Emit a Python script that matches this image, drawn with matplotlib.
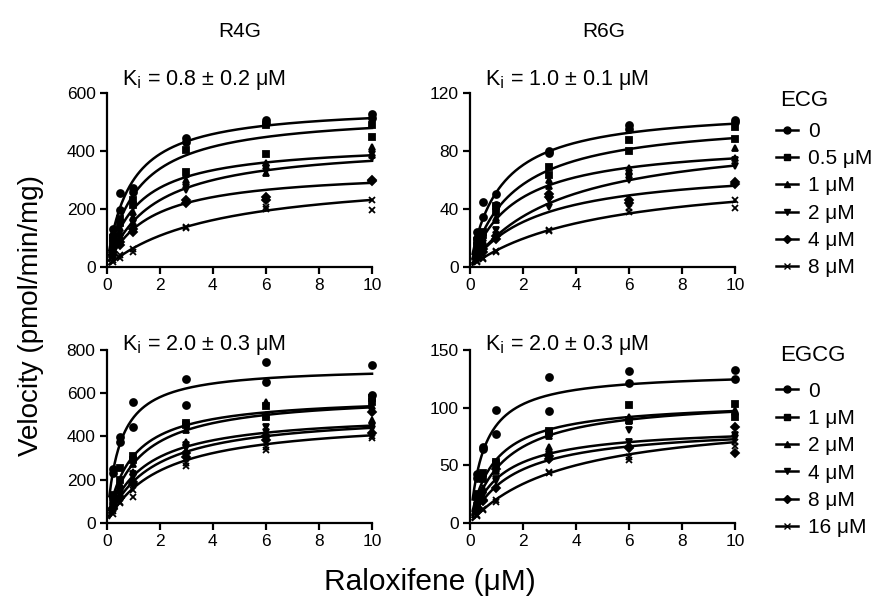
import matplotlib.pyplot as plt
import numpy as np
from matplotlib.lines import Line2D

plt.rcParams['font.family'] = ['Liberation Sans', 'DejaVu Sans']

# 底物浓度
conc = [0.25, 0.5, 1, 3, 6, 10]

# 抑制剂浓度标签
ecg_labels = ['0', '0.5 μM', '1 μM', '2 μM', '4 μM', '8 μM']
egcg_labels = ['0', '1 μM', '2 μM', '4 μM', '8 μM', '16 μM']
markers = ['o', 's', '^', 'v', 'D', 'x']

# R4G + ECG  每个浓度两次重复
r4g_ecg = [
    [[110, 196, 271, 444, 508, 527], [130, 254, 259, 433, 496, 514]],
    [[90, 150, 213, 404, 490, 490], [100, 165, 230, 329, 389, 450]],
    [[70, 120, 173, 300, 323, 415], [80, 135, 190, 320, 360, 385]],
    [[50, 90, 138, 265, 340, 390], [60, 100, 150, 277, 330, 375]],
    [[40, 75, 120, 220, 242, 300], [50, 85, 130, 230, 231, 295]],
    [[15, 30, 52, 138, 208, 231], [22, 40, 60, 135, 200, 196]],
]
r4g_ecg_vmax = [559, 536, 430, 430, 336, 325]
r4g_ecg_km = [0.871, 1.165, 1.152, 1.739, 1.58, 4.06]

# R6G + ECG
r6g_ecg = [
    [[20, 44.9, 50.6, 78.7, 97.8, 101.7], [24, 34.5, 43, 80, 95.5, 100]],
    [[14, 24, 42, 69, 87.9, 97], [18, 22, 38, 63.3, 80, 88.6]],
    [[11, 20, 32, 56, 68.6, 82.4], [13, 18, 34, 60, 66, 75]],
    [[6, 11, 25.3, 41.4, 62, 74], [7, 13, 22, 46, 60, 70]],
    [[6, 12, 19, 50, 46, 58.7], [8, 10, 21, 48, 44, 57]],
    [[3, 6, 10.4, 25.4, 40.3, 46], [4, 5, 11, 25, 38, 40.3]],
]
r6g_ecg_vmax = [110.2, 103.6, 87.2, 93.7, 70.3, 67.2]
r6g_ecg_km = [1.133, 1.637, 1.63, 3.39, 2.545, 4.94]

# R4G + EGCG
r4g_egcg = [
    [[229, 398, 560, 664, 746, 730], [250, 375, 445, 545, 653, 590]],
    [[130, 252, 290, 452, 540, 576], [120, 200, 310, 460, 491, 560]],
    [[100, 170, 236, 375, 560, 476], [110, 180, 270, 430, 500, 540]],
    [[80, 140, 210, 345, 445, 434], [75, 130, 225, 360, 420, 450]],
    [[65, 115, 190, 325, 383, 513], [70, 120, 180, 305, 400, 414]],
    [[40, 90, 120, 275, 337, 391], [55, 95, 150, 265, 350, 400]],
]
r4g_egcg_vmax = [724, 589, 598, 511, 514, 488]
r4g_egcg_km = [0.49, 0.91, 1.184, 1.354, 1.69, 2.05]

# R6G + EGCG
r6g_egcg = [
    [[38.5, 66, 97.9, 126.8, 132, 132.6], [42, 64, 77, 97.3, 121.6, 125]],
    [[22, 42.9, 51, 77.6, 102.2, 103], [25, 38, 53, 80, 89.2, 92]],
    [[17, 30, 45, 66, 92, 96], [19, 28, 47, 75, 88, 98]],
    [[14, 24, 38, 60, 80.5, 76.2], [15, 26, 36, 58, 70, 74]],
    [[11, 20, 47, 55, 64.6, 83.4], [12, 19, 30, 58, 66, 60.3]],
    [[6, 11, 18, 42.9, 54.5, 66.6], [7, 12, 20, 44, 57, 70]],
]
r6g_egcg_vmax = [131.3, 106, 109.1, 84, 84.5, 95.8]
r6g_egcg_km = [0.55, 0.925, 1.31, 1.2, 1.648, 3.68]

fig = plt.figure(figsize=(8.76, 6), dpi=100)

panels = [
    ([0.1218, 0.5555, 0.3029, 0.289], r4g_ecg, r4g_ecg_vmax, r4g_ecg_km, 600, [0, 200, 400, 600], 'K$_\\mathrm{i}$ = 0.8 ± 0.2 μM'),
    ([0.5365, 0.5555, 0.3025, 0.289], r6g_ecg, r6g_ecg_vmax, r6g_ecg_km, 120, [0, 40, 80, 120], 'K$_\\mathrm{i}$ = 1.0 ± 0.1 μM'),
    ([0.1218, 0.1288, 0.3029, 0.2878], r4g_egcg, r4g_egcg_vmax, r4g_egcg_km, 800, [0, 200, 400, 600, 800], 'K$_\\mathrm{i}$ = 2.0 ± 0.3 μM'),
    ([0.5365, 0.1288, 0.3025, 0.2878], r6g_egcg, r6g_egcg_vmax, r6g_egcg_km, 150, [0, 50, 100, 150], 'K$_\\mathrm{i}$ = 2.0 ± 0.3 μM'),
]

xs = np.linspace(0.1, 10, 300)
for i, (pos, data, vmax, km, ymax, yticks, ki) in enumerate(panels):
    ax = fig.add_axes(pos)
    for j in range(6):
        # 米氏方程拟合曲线
        ax.plot(xs, vmax[j] * xs / (km[j] + xs), color='black', linewidth=1.8, clip_on=False)
        for rep in data[j]:
            ax.plot(conc, rep, linestyle='none', marker=markers[j], color='black',
                    markersize=5 if markers[j] != 'D' else 4, markeredgewidth=1.3, clip_on=False)
    ax.set_xlim(0, 10)
    ax.set_ylim(0, ymax)
    ax.set_xticks([0, 2, 4, 6, 8, 10])
    ax.set_yticks(yticks)
    for s in ['top', 'right']:
        ax.spines[s].set_visible(False)
    for s in ['left', 'bottom']:
        ax.spines[s].set_linewidth(1.6)
    ax.tick_params(direction='out', length=5, width=1.6, labelsize=12.5, pad=3)
    ytop = 1.077 if i < 2 else 1.03
    ax.text(0.058, ytop, ki, transform=ax.transAxes, fontsize=15.5, va='center', ha='left')

fig.text(0.274, 0.947, 'R4G', fontsize=15, ha='center', va='center')
fig.text(0.689, 0.947, 'R6G', fontsize=15, ha='center', va='center')
fig.text(0.035, 0.475, 'Velocity (pmol/min/mg)', fontsize=20, rotation=90, ha='center', va='center')
fig.text(0.491, 0.03, 'Raloxifene (μM)', fontsize=21.5, ha='center', va='center')

# 图例
def make_handles(labels):
    return [Line2D([0], [0], color='black', linewidth=1.8, marker=m,
                   markersize=5 if m != 'D' else 4, label=l) for m, l in zip(markers, labels)]

for labels, title, ty, ly in [(ecg_labels, 'ECG', 0.833, 0.797), (egcg_labels, 'EGCG', 0.407, 0.364)]:
    fig.text(0.89, ty, title, fontsize=16, ha='left', va='center')
    fig.legend(handles=make_handles(labels), loc='upper left',
               bbox_to_anchor=(0.886, ly), frameon=False, fontsize=15,
               handlelength=1.05, handletextpad=0.5, borderpad=0,
               labelspacing=0.4, borderaxespad=0)

plt.savefig('out.png', dpi=100)
